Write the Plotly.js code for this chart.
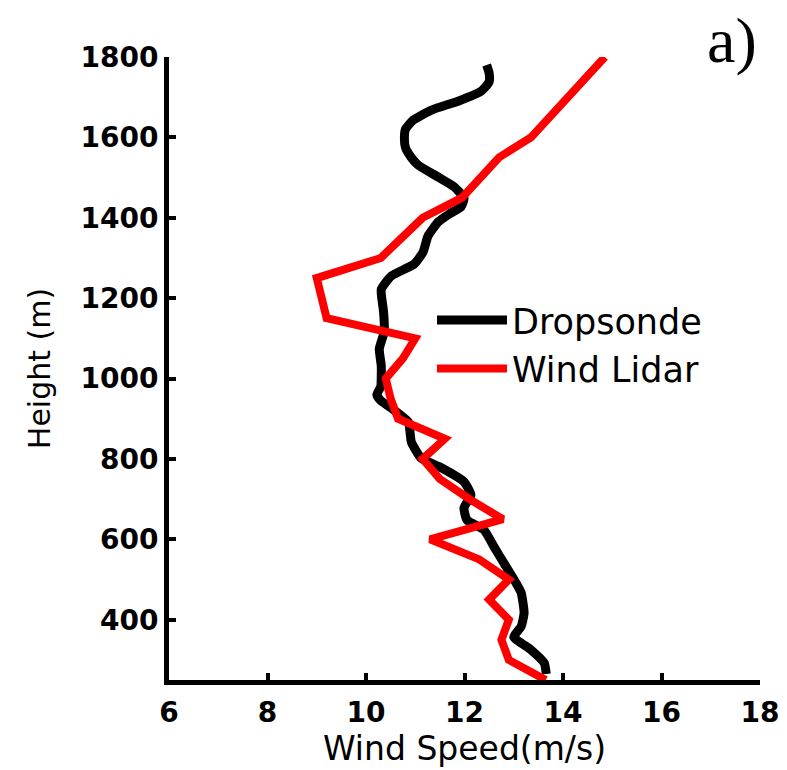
<!DOCTYPE html>
<html>
<head>
<meta charset="utf-8">
<script src="https://cdn.plot.ly/plotly-3.0.1.min.js"></script>
<style>html,body{margin:0;padding:0;background:#fff;}#chart{width:787px;height:770px;}</style>
</head>
<body>
<div id="chart"></div>
<script>
// Dropsonde profile (height m, wind speed m/s), bottom to top
const sondeHeight = [265,292,325,357,383,417,467,499,541,581,623,648,678,710,743,778,802,842,860,892,927,945,960,980,1009,1032,1074,1116,1140,1173,1200,1222,1255,1285,1315,1355,1390,1410,1427,1449,1477,1501,1531,1550,1575,1600,1620,1643,1668,1690,1715,1738,1760,1780];
const sondeSpeed  = [13.66,13.62,13.35,13.0,13.15,13.21,13.15,13.01,12.8,12.6,12.4,12.05,11.99,12.13,11.99,11.53,11.12,10.92,10.9,10.86,10.51,10.3,10.22,10.3,10.31,10.31,10.27,10.37,10.37,10.35,10.32,10.31,10.51,10.98,11.16,11.26,11.47,11.7,11.93,11.99,11.79,11.47,11.06,10.92,10.8,10.78,10.8,10.96,11.33,11.87,12.34,12.5,12.5,12.45];

// Wind lidar profile (height m, wind speed m/s)
const lidarHeight = [250,300,350,400,450,500,550,600,650,700,750,800,850,900,950,1000,1050,1100,1150,1200,1250,1300,1350,1400,1450,1500,1550,1600,1650,1700,1750,1800];
const lidarSpeed  = [13.65,12.9,12.75,12.9,12.5,12.9,12.3,11.3,12.78,12.1,11.5,11.15,11.6,10.65,10.5,10.4,10.75,11.0,9.2,9.1,9.0,10.3,10.7,11.15,11.95,12.3,12.7,13.35,13.72,14.1,14.47,14.85];

const xTicks = [6,8,10,12,14,16,18];
const yTicks = [400,600,800,1000,1200,1400,1600,1800];
const seriesNames = ['Dropsonde','Wind Lidar'];

const traces = [
  {x: sondeSpeed, y: sondeHeight, name: seriesNames[0], mode: 'lines', type: 'scatter',
   line: {color: '#000000', width: 9, shape: 'spline', smoothing: 0.5}},
  {x: lidarSpeed, y: lidarHeight, name: seriesNames[1], mode: 'lines', type: 'scatter',
   line: {color: '#ff0000', width: 8}}
];

const layout = {
  width: 787, height: 770,
  margin: {l: 169, r: 27, t: 57, b: 90},
  paper_bgcolor: '#ffffff', plot_bgcolor: '#ffffff',
  showlegend: true,
  legend: {x: 0.445, y: 0.625, xanchor: 'left', yanchor: 'top', bgcolor: 'rgba(0,0,0,0)',
           font: {family: 'DejaVu Sans', size: 35, color: '#000'}, itemwidth: 70, tracegroupgap: 0},
  xaxis: {range: [6, 18], tickvals: xTicks, ticktext: xTicks.map(String),
          showline: true, linecolor: '#000', linewidth: 5, mirror: false,
          ticks: 'inside', ticklen: 7, tickwidth: 4, tickcolor: '#000',
          showgrid: false, zeroline: false, ticklabelstandoff: 3,
          tickfont: {family: 'DejaVu Sans', size: 28, color: '#000', weight: 'bold'},
          title: {text: 'Wind Speed(m/s)', standoff: 4, font: {family: 'DejaVu Sans', size: 33, color: '#000'}}},
  yaxis: {range: [250, 1800], tickvals: yTicks, ticktext: yTicks.map(String),
          showline: true, linecolor: '#000', linewidth: 5, mirror: false,
          ticks: 'inside', ticklen: 7, tickwidth: 4, tickcolor: '#000',
          showgrid: false, zeroline: false, ticklabelstandoff: 0,
          tickfont: {family: 'DejaVu Sans', size: 28, color: '#000', weight: 'bold'},
          title: {text: 'Height (m)', standoff: 22, font: {family: 'DejaVu Sans', size: 30, color: '#000'}}},
  annotations: [{text: 'a)', xref: 'paper', yref: 'paper', x: 0.953, y: 1.027,
                 xanchor: 'center', yanchor: 'middle', showarrow: false,
                 font: {family: 'Liberation Serif', size: 64, color: '#000'}}]
};

Plotly.newPlot('chart', traces, layout, {displayModeBar: false, staticPlot: true});
</script>
</body>
</html>
